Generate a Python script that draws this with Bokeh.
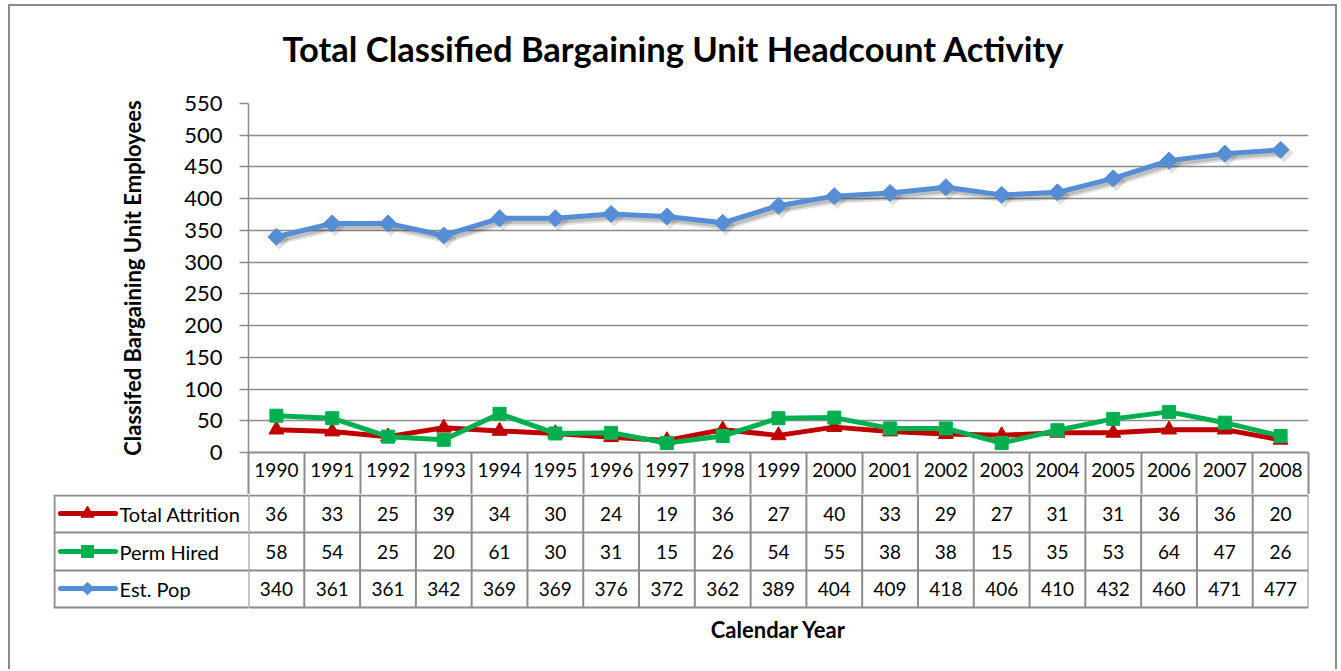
import math
from bokeh.plotting import figure
from bokeh.layouts import column, row
from bokeh.models import Range1d, FixedTicker, ColumnDataSource, Title
from bokeh.core.properties import value
from bokeh.embed import file_html
from bokeh.resources import INLINE

years = ["1990", "1991", "1992", "1993", "1994", "1995", "1996", "1997", "1998", "1999",
         "2000", "2001", "2002", "2003", "2004", "2005", "2006", "2007", "2008"]
total_attrition = [36, 33, 25, 39, 34, 30, 24, 19, 36, 27, 40, 33, 29, 27, 31, 31, 36, 36, 20]
perm_hired = [58, 54, 25, 20, 61, 30, 31, 15, 26, 54, 55, 38, 38, 15, 35, 53, 64, 47, 26]
est_pop = [340, 361, 361, 342, 369, 369, 376, 372, 362, 389, 404, 409, 418, 406, 410, 432, 460, 471, 477]
series_names = ["Total Attrition", "Perm Hired", "Est. Pop"]
y_ticks = list(range(0, 551, 50))

RED = "#C00000"
GREEN = "#00B050"
BLUE = "#558ED5"
GRID = "#8C8C8C"
FONT = "Lato"

n = len(years)
xs = [i + 0.5 for i in range(n)]

W = 1325
CH = 488
p = figure(width=W, height=CH, output_backend="svg", toolbar_location=None,
           x_range=Range1d(0, n), y_range=Range1d(0, 550),
           min_border_left=238, min_border_right=27, min_border_top=97, min_border_bottom=42)
p.outline_line_color = None
p.background_fill_color = "white"
p.border_fill_color = "white"

p.yaxis.ticker = FixedTicker(ticks=y_ticks)
p.yaxis.minor_tick_line_color = None
p.yaxis.major_tick_in = 0
p.yaxis.major_tick_out = 9
p.yaxis.major_tick_line_color = GRID
p.yaxis.major_tick_line_width = 1.5
p.yaxis.axis_line_color = GRID
p.yaxis.axis_line_width = 1.5
p.yaxis.major_label_standoff = 17
p.yaxis.major_label_text_font = FONT
p.yaxis.major_label_text_font_size = "22px"
p.yaxis.major_label_text_color = "#000000"
p.yaxis.axis_label = "Classifed Bargaining Unit Employees"
p.yaxis.axis_label_text_font = FONT
p.yaxis.axis_label_text_font_style = "bold"
p.yaxis.axis_label_text_font_size = "22px"
p.yaxis.axis_label_text_color = "#000000"
p.yaxis.axis_label_standoff = 35

# x axis doubles as the data table's header row (years)
p.xaxis.ticker = FixedTicker(ticks=xs, minor_ticks=list(range(n + 1)))
p.xaxis.major_label_overrides = {x: y for x, y in zip(xs, years)}
p.xaxis.major_tick_line_color = None
p.xaxis.major_tick_out = 0
p.xaxis.major_tick_in = 0
p.xaxis.minor_tick_in = 0
p.xaxis.minor_tick_out = 42
p.xaxis.minor_tick_line_color = GRID
p.xaxis.minor_tick_line_width = 2
p.xaxis.axis_line_color = GRID
p.xaxis.axis_line_width = 2
p.xaxis.major_label_standoff = -32
p.xaxis.major_label_text_font = FONT
p.xaxis.major_label_text_font_size = "19px"
p.xaxis.major_label_text_color = "#000000"

p.xgrid.grid_line_color = None
p.ygrid.ticker = FixedTicker(ticks=y_ticks)
p.ygrid.grid_line_color = GRID
p.ygrid.grid_line_width = 1.5

p.title = Title(text="Total Classified Bargaining Unit Headcount Activity",
                align="left", offset=34, standoff=10,
                text_font=FONT, text_font_size="34.5px", text_font_style="bold",
                text_color="#000000")
# spacer between title and plot area
p.add_layout(Title(text=" ", text_font_size="1px", standoff=27), "above")

# shadow for the population line (shifted through extra ranges)
dx = 3.0 / (1060.0 / n)
dy = 3.0 * 550.0 / 349.0
p.extra_x_ranges = {"sh": Range1d(0 - dx, n - dx)}
p.extra_y_ranges = {"sh": Range1d(0 + dy, 550 + dy)}

src = ColumnDataSource(dict(x=xs, att=total_attrition, hir=perm_hired, pop=est_pop))

p.line("x", "pop", source=src, line_color="#000000", line_alpha=0.12, line_width=9,
       x_range_name="sh", y_range_name="sh")
p.scatter("x", "pop", source=src, marker="square", angle=math.pi / 4, size=14,
          fill_color="#000000", fill_alpha=0.12, line_color=None,
          x_range_name="sh", y_range_name="sh")
p.line("x", "pop", source=src, line_color="#000000", line_alpha=0.15, line_width=5,
       x_range_name="sh", y_range_name="sh")

p.line("x", "att", source=src, line_color=RED, line_width=5)
p.scatter("x", "att", source=src, marker="triangle", size=15, fill_color=RED, line_color=RED)
p.line("x", "hir", source=src, line_color=GREEN, line_width=5)
p.scatter("x", "hir", source=src, marker="square", size=13, fill_color=GREEN, line_color=GREEN)
p.line("x", "pop", source=src, line_color=BLUE, line_width=5)
p.scatter("x", "pop", source=src, marker="square", angle=math.pi / 4, size=12,
          fill_color=BLUE, line_color=BLUE)

# ---------------- data table rows ----------------
TH = 175
row_edges = [0, 37, 75, 112]
row_centers = [18, 56, 93]
colors = [RED, GREEN, BLUE]

# legend column
lg = figure(width=238, height=TH, output_backend="svg", toolbar_location=None,
            x_range=Range1d(53, 248), y_range=Range1d(TH - 1, -1),
            min_border_left=43, min_border_right=0, min_border_top=0, min_border_bottom=0,
            x_axis_location=None, y_axis_location=None)
lg.outline_line_color = None
lg.xgrid.grid_line_color = None
lg.ygrid.grid_line_color = None
lg.segment(x0=[53] * 4, y0=row_edges, x1=[250] * 4, y1=row_edges, line_color=GRID, line_width=2)
lg.segment(x0=[54], y0=[0], x1=[54], y1=[row_edges[-1]], line_color=GRID, line_width=2)
lg.segment(x0=[60] * 3, y0=row_centers, x1=[115] * 3, y1=row_centers,
           line_color=colors, line_width=5, line_cap="round")
lg.scatter(x=[87], y=[row_centers[0]], marker="triangle", size=13, fill_color=RED, line_color=RED)
lg.scatter(x=[87], y=[row_centers[1]], marker="square", size=12, fill_color=GREEN, line_color=GREEN)
lg.scatter(x=[87], y=[row_centers[2]], marker="square", angle=math.pi / 4, size=9,
           fill_color=BLUE, line_color=BLUE)
lg.text(x=[119] * 3, y=row_centers, text=series_names, text_align="left", text_baseline="middle",
        text_font=value(FONT), text_font_size="20px", text_color="#000000")

# value cells
t = figure(width=W - 238, height=TH, output_backend="svg", toolbar_location=None,
           x_range=Range1d(0, n), y_range=Range1d(TH - 1, -1),
           min_border_left=0, min_border_right=27, min_border_top=0, min_border_bottom=0,
           x_axis_location=None, y_axis_location=None)
t.outline_line_color = None
t.xgrid.grid_line_color = None
t.ygrid.grid_line_color = None
t.segment(x0=[0] * 4, y0=row_edges, x1=[n] * 4, y1=row_edges, line_color=GRID, line_width=2)
vx = list(range(n + 1))
t.segment(x0=vx, y0=[0] * len(vx), x1=vx, y1=[row_edges[-1]] * len(vx),
          line_color=GRID, line_width=2)
for vals, yc in zip([total_attrition, perm_hired, est_pop], row_centers):
    t.text(x=xs, y=[yc] * n, text=[str(v) for v in vals], text_align="center",
           text_baseline="middle", text_font=value(FONT), text_font_size="19px",
           text_color="#000000")
t.text(x=[n / 2], y=[134], text=["Calendar Year"], text_align="center", text_baseline="middle",
       text_font=value(FONT), text_font_size="22px", text_font_style="bold", text_color="#000000")

layout = column(p, row(lg, t, spacing=0), spacing=0,
                styles={"border-top": "2px solid #8C8C8C", "border-left": "2px solid #8C8C8C",
                        "border-right": "2px solid #8C8C8C",
                        "margin-left": "8px", "margin-top": "4px"})

open("out.html", "w").write(file_html(layout, INLINE))
